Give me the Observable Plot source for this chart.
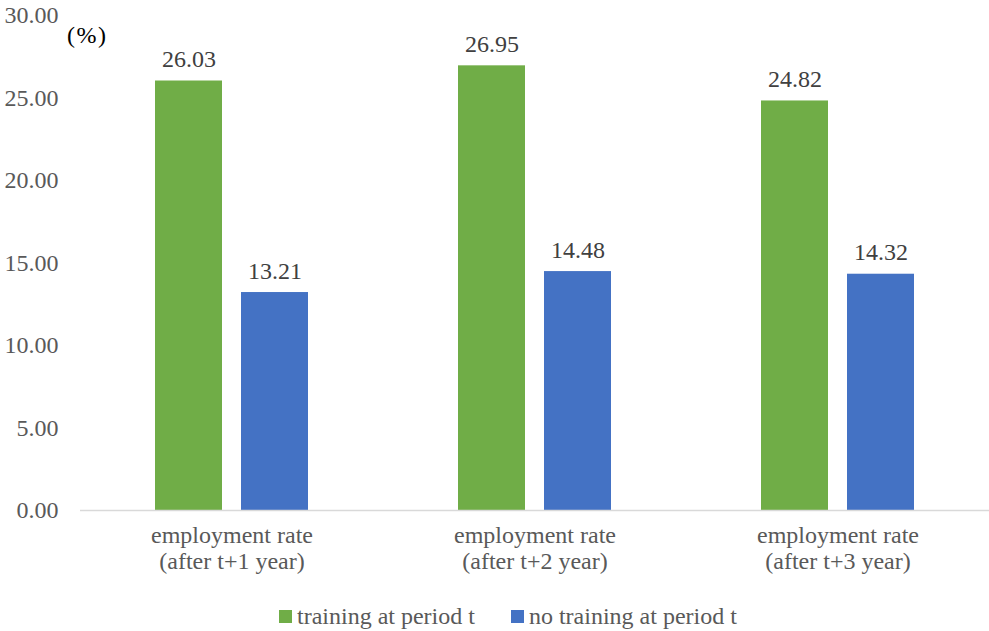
<!DOCTYPE html>
<html><head><meta charset="utf-8">
<script src="https://cdn.jsdelivr.net/npm/d3@7"></script>
<script src="https://cdn.jsdelivr.net/npm/@observablehq/plot@0.6"></script>
<style>
body{margin:0;background:#fff;}
#wrap{position:relative;width:989px;height:631px;font-family:'Times New Roman','Liberation Serif',Tinos,Times,'DejaVu Serif',serif;}
#pct{position:absolute;left:67px;top:22px;font-size:24px;letter-spacing:1.5px;color:#000;}
#legend{position:absolute;left:279px;top:603px;font-size:24px;color:#595959;display:flex;align-items:center;white-space:nowrap;}
.sw{display:inline-block;width:13px;height:13px;margin-right:5px;}
#chart svg, #chart svg text{font-family:'Times New Roman','Liberation Serif',Tinos,Times,'DejaVu Serif',serif !important;}
</style></head>
<body><div id="wrap"><div id="chart"></div><div id="pct">(%)</div><div id="legend"></div></div>
<script>
const categories = ["employment rate\n(after t+1 year)", "employment rate\n(after t+2 year)", "employment rate\n(after t+3 year)"];
const series = ["training at period t", "no training at period t"];
const training = [26.03, 26.95, 24.82];
const noTraining = [13.21, 14.48, 14.32];
const yTicks = [0, 5, 10, 15, 20, 25, 30];
const colors = ["#70ad47", "#4472c4"];

const data = [];
categories.forEach((c, i) => {
  data.push({cat: c, s: series[0], v: training[i]});
  data.push({cat: c, s: series[1], v: noTraining[i]});
});

const chart = Plot.plot({
  width: 989, height: 595,
  marginLeft: 79, marginRight: 0, marginTop: 15, marginBottom: 85,
  style: {fontSize: "24px", color: "#595959", background: "#fff"},
  fx: {domain: categories, padding: 0, label: null, axis: null},
  x: {domain: series, paddingInner: 0.218, paddingOuter: 0.856, axis: null},
  y: {domain: [0, 30], ticks: yTicks, tickFormat: d => d.toFixed(2), label: null, tickSize: 0, tickPadding: 22},
  color: {domain: series, range: colors},
  marks: [
    Plot.barY(data, {fx: "cat", x: "s", y: "v", fill: "s"}),
    Plot.ruleY([0], {stroke: "#d9d9d9", strokeWidth: 1.5}),
    Plot.axisFx({anchor: "bottom", tickSize: 0, tickPadding: 13, lineHeight: 1.12, label: null, fill: "#595959"}),
    Plot.text(data, {fx: "cat", x: "s", y: "v", text: d => d.v.toFixed(2), lineAnchor: "bottom", dy: -14, fill: "#404040", fontSize: 24})
  ]
});
document.getElementById("chart").appendChild(chart);

const lg = document.getElementById("legend");
series.forEach((s, i) => {
  const it = document.createElement("span");
  it.style.display = "inline-flex"; it.style.alignItems = "center";
  it.style.marginRight = i === 0 ? "36px" : "0";
  it.innerHTML = `<span class="sw" style="background:${colors[i]}"></span>${s}`;
  lg.appendChild(it);
});
</script></body></html>
